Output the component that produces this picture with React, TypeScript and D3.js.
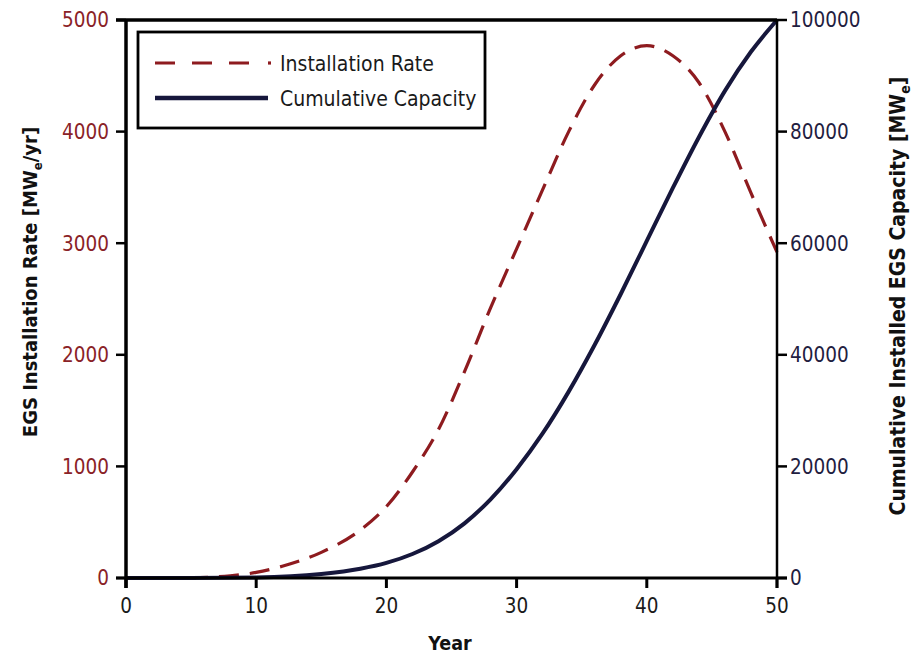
import React from 'react';
import * as d3 from 'd3';

const rateYears = [0, 5, 8, 10, 12, 15, 18, 20, 22, 24, 26, 28, 30, 32, 34, 36, 38, 40, 42, 44, 46, 48, 50];
const installationRate = [0, 3, 20, 50, 105, 230, 430, 640, 950, 1330, 1850, 2420, 2950, 3480, 4000, 4420, 4680, 4770, 4680, 4440, 4000, 3450, 2920];
const capYears = [0, 5, 10, 15, 18, 20, 22, 24, 26, 28, 30, 32, 34, 36, 38, 40, 42, 44, 46, 48, 50];
const cumulativeCapacity = [0, 0, 80, 700, 1650, 2700, 4300, 6600, 9800, 14100, 19500, 25900, 33400, 41800, 50900, 60400, 69900, 79000, 87300, 94300, 100000];
const xTicks = [0, 10, 20, 30, 40, 50];
const leftTicks = [0, 1000, 2000, 3000, 4000, 5000];
const rightTicks = [0, 20000, 40000, 60000, 80000, 100000];
const seriesNames = ['Installation Rate', 'Cumulative Capacity'];

const W = 914, H = 654;
const M = { left: 126, right: 777, top: 20, bottom: 578 };
const FONT = '"DejaVu Sans Condensed", "DejaVu Sans", sans-serif';
const RED = '#8e1b1f';
const NAVY = '#16173c';
const RED_TXT = '#8a2227';
const NAVY_TXT = '#1f2040';

export default function App() {
  const x = d3.scaleLinear().domain([0, 50]).range([M.left, M.right]);
  const yL = d3.scaleLinear().domain([0, 5000]).range([M.bottom, M.top]);
  const yR = d3.scaleLinear().domain([0, 100000]).range([M.bottom, M.top]);

  const rateData = rateYears.map((yr, i) => [yr, installationRate[i]] as [number, number]);
  const capData = capYears.map((yr, i) => [yr, cumulativeCapacity[i]] as [number, number]);

  const rateLine = d3.line<[number, number]>().x(d => x(d[0])).y(d => yL(d[1])).curve(d3.curveMonotoneX);
  const capLine = d3.line<[number, number]>().x(d => x(d[0])).y(d => yR(d[1])).curve(d3.curveMonotoneX);

  const lg = { x: 138, y: 32, w: 347, h: 96 };

  return (
    <svg width={W} height={H} style={{ position: 'absolute', left: 0, top: 0, background: '#fff' }} fontFamily={FONT}>
      <rect x={0} y={0} width={W} height={H} fill="#fff" />
      {/* series */}
      <path d={rateLine(rateData) || ''} fill="none" stroke={RED} strokeWidth={3.2} strokeDasharray="20,11" />
      <path d={capLine(capData) || ''} fill="none" stroke={NAVY} strokeWidth={4} />

      {/* frame */}
      <line x1={M.left - 10} x2={M.right} y1={M.top} y2={M.top} stroke="#000" strokeWidth={3.5} />
      <line x1={M.left} x2={M.left} y1={M.top} y2={M.bottom + 10} stroke="#000" strokeWidth={3.5} />
      <line x1={M.right} x2={M.right} y1={M.top} y2={M.bottom + 10} stroke="#000" strokeWidth={2.5} />
      <line x1={M.left - 10} x2={M.right + 10} y1={M.bottom} y2={M.bottom} stroke="#000" strokeWidth={2.8} />

      {/* left ticks */}
      {leftTicks.map(t => (
        <g key={'l' + t}>
          <line x1={M.left - 10} x2={M.left} y1={yL(t)} y2={yL(t)} stroke="#000" strokeWidth={2.5} />
          <text x={M.left - 17} y={yL(t)} dy="0.36em" textAnchor="end" fontSize={20.5} fill={RED_TXT}>{t}</text>
        </g>
      ))}
      {/* right ticks */}
      {rightTicks.map(t => (
        <g key={'r' + t}>
          <line x1={M.right} x2={M.right + 10} y1={yR(t)} y2={yR(t)} stroke="#000" strokeWidth={2.5} />
          <text x={M.right + 13} y={yR(t)} dy="0.36em" textAnchor="start" fontSize={20.5} fill={NAVY_TXT}>{t}</text>
        </g>
      ))}
      {/* bottom ticks */}
      {xTicks.map(t => (
        <g key={'x' + t}>
          <line x1={x(t)} x2={x(t)} y1={M.bottom} y2={M.bottom + 10} stroke="#000" strokeWidth={3} />
          <text x={x(t)} y={613} textAnchor="middle" fontSize={20.5} fill="#1a1a1a">{t}</text>
        </g>
      ))}

      {/* axis titles */}
      <text x={450} y={650} textAnchor="middle" fontSize={19.5} fontWeight="bold" fill="#111">Year</text>
      <text transform={`translate(37,282) rotate(-90)`} textAnchor="middle" fontSize={20} fontWeight="bold" fill="#111">
        EGS Installation Rate [MW<tspan fontSize={13} dy={5}>e</tspan><tspan dy={-5}>/yr]</tspan>
      </text>
      <text transform={`translate(905,296) rotate(-90)`} textAnchor="middle" fontSize={21} fontWeight="bold" fill="#111">
        Cumulative Installed EGS Capacity [MW<tspan fontSize={14} dy={5}>e</tspan><tspan dy={-5}>]</tspan>
      </text>

      {/* legend */}
      <rect x={lg.x} y={lg.y} width={lg.w} height={lg.h} fill="#fff" stroke="#000" strokeWidth={2.8} />
      <line x1={155} x2={262} y1={63} y2={63} stroke={RED} strokeWidth={3.2} strokeDasharray="20,17" />
      <line x1={268} x2={271} y1={63} y2={63} stroke={RED} strokeWidth={3.2} />
      <text x={280} y={63} dy="0.36em" fontSize={21} fill="#1a1a1a">{seriesNames[0]}</text>
      <line x1={155} x2={268} y1={98} y2={98} stroke={NAVY} strokeWidth={4.5} />
      <text x={280} y={98} dy="0.36em" fontSize={21} fill="#1a1a1a">{seriesNames[1]}</text>
    </svg>
  );
}
